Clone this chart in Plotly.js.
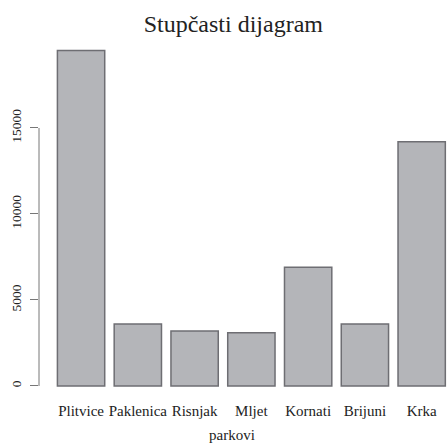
<!DOCTYPE html>
<html>
<head>
<meta charset="utf-8">
<script src="https://cdn.plot.ly/plotly-3.0.1.min.js"></script>
<style>html,body{margin:0;padding:0;background:#fff;}#chart{width:447px;height:446px;}</style>
</head>
<body>
<div id="chart"></div>
<script>
var parks = ["Plitvice", "Paklenica", "Risnjak", "Mljet", "Kornati", "Brijuni", "Krka"];
var visitors = [19500, 3600, 3200, 3100, 6900, 3600, 14200];
var yTicks = [0, 5000, 10000, 15000];
var yTickLabels = ["0", "5000", "10000", "15000"];

var FONT = "Liberation Serif, Times New Roman, serif";

var trace = {
  type: "bar",
  x: parks,
  y: visitors,
  marker: { color: "#b4b5b9", line: { color: "#6e6e73", width: 1.5 } },
  hoverinfo: "none"
};

var layout = {
  width: 447,
  height: 446,
  margin: { l: 39, r: 0, t: 40, b: 56 },
  paper_bgcolor: "#ffffff",
  plot_bgcolor: "#ffffff",
  showlegend: false,
  bargap: 0.1667,
  font: { family: FONT, color: "#222222" },
  title: {
    text: "Stupčasti dijagram",
    font: { family: FONT, size: 24, color: "#222222" },
    x: 0.522, xref: "container", xanchor: "center",
    y: 0.946, yref: "container", yanchor: "middle"
  },
  xaxis: {
    type: "category",
    range: [-0.741, 6.446],
    showline: false, showgrid: false, zeroline: false,
    ticks: "",
    tickfont: { family: FONT, size: 15, color: "#222222" },
    ticklabelstandoff: 10
  },
  yaxis: {
    range: [-233, 20116],
    showline: false, showgrid: false, zeroline: false,
    tickmode: "array",
    tickvals: yTicks,
    ticktext: yTickLabels,
    ticks: "outside", ticklen: 8, tickwidth: 1, tickcolor: "#777777",
    tickangle: -90,
    tickfont: { family: FONT, size: 13.5, color: "#222222" },
    ticklabelstandoff: 4
  },
  shapes: [{
    type: "line", xref: "paper", yref: "y",
    x0: 0, x1: 0, y0: yTicks[0], y1: yTicks[yTicks.length - 1],
    line: { color: "#777777", width: 1 }
  }],
  annotations: [{
    text: "parkovi", xref: "paper", yref: "paper",
    x: (232 - 39) / 408, y: -(435 - 390) / 350,
    xanchor: "center", yanchor: "middle", showarrow: false,
    font: { family: FONT, size: 15, color: "#222222" }
  }]
};

Plotly.newPlot("chart", [trace], layout, { staticPlot: true, displayModeBar: false });
</script>
</body>
</html>
